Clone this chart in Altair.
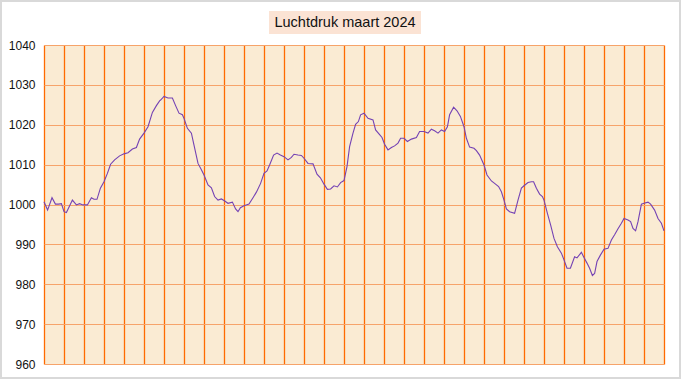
import altair as alt
import pandas as pd

titel = "Luchtdruk  maart 2024"

# tijd in dagen sinds 1 maart 00:00
dag = [
    0.00, 0.18, 0.40, 0.57, 0.73, 0.87, 1.00, 1.12, 1.42, 1.62, 1.78, 1.95,
    2.17, 2.37, 2.50, 2.65, 2.82, 3.00, 3.17, 3.33, 3.53, 3.78, 4.00, 4.20,
    4.42, 4.62, 4.78, 5.00, 5.20, 5.42, 5.62, 5.78, 5.83, 6.00, 6.20, 6.42,
    6.58, 6.75, 6.92, 7.00, 7.17, 7.37, 7.50, 7.70, 7.87, 8.00, 8.20, 8.37,
    8.53, 8.70, 8.87, 9.00, 9.20, 9.42, 9.58, 9.70, 9.82, 10.00, 10.25, 10.45,
    10.62, 10.83, 11.00, 11.15, 11.28, 11.48, 11.65, 11.82, 12.00, 12.20, 12.37, 12.50,
    12.70, 12.87, 13.00, 13.20, 13.45, 13.65, 13.82, 14.00, 14.17, 14.33, 14.50, 14.67,
    14.83, 15.00, 15.15, 15.28, 15.45, 15.58, 15.72, 15.83, 16.00, 16.20, 16.45, 16.58,
    16.78, 16.90, 17.03, 17.20, 17.37, 17.53, 17.70, 17.83, 18.00, 18.17, 18.37, 18.62,
    18.78, 19.00, 19.20, 19.37, 19.53, 19.70, 19.87, 20.03, 20.17, 20.28, 20.48, 20.65,
    20.82, 21.00, 21.12, 21.28, 21.50, 21.62, 21.78, 22.00, 22.15, 22.37, 22.53, 22.73,
    22.87, 23.00, 23.12, 23.28, 23.53, 23.70, 23.87, 24.00, 24.20, 24.37, 24.48, 24.62,
    24.78, 24.92, 25.00, 25.17, 25.33, 25.50, 25.67, 25.87, 26.00, 26.15, 26.32, 26.53,
    26.65, 26.87, 27.00, 27.15, 27.28, 27.42, 27.53, 27.65, 27.82, 28.00, 28.20, 28.37,
    28.53, 28.70, 28.87, 29.00, 29.20, 29.33, 29.45, 29.58, 29.70, 29.87, 30.00, 30.20,
    30.33, 30.53, 30.70, 30.87, 31.00,
]

druk = [
    1000.7, 998.6, 1001.7, 1000.1, 1000.1, 1000.2, 998.2, 998.0, 1001.1, 999.9, 1000.2, 999.9,
    999.9, 1001.7, 1001.3, 1001.3, 1004.1, 1005.7, 1007.8, 1010.1, 1011.2, 1012.2, 1012.7, 1013.0,
    1013.9, 1014.3, 1016.4, 1017.9, 1019.5, 1023.1, 1024.8, 1026.0, 1026.2, 1027.1, 1026.7, 1026.7,
    1024.8, 1022.9, 1022.5, 1021.6, 1019.1, 1017.9, 1014.9, 1010.3, 1008.7, 1007.4, 1004.9, 1004.2,
    1002.0, 1001.1, 1001.4, 1001.0, 1000.3, 1000.6, 998.9, 998.2, 999.2, 999.7, 1000.1, 1001.7,
    1003.1, 1005.3, 1007.8, 1008.4, 1009.9, 1012.4, 1012.9, 1012.4, 1012.0, 1011.2, 1011.8, 1012.6,
    1012.4, 1012.3, 1011.6, 1010.3, 1010.2, 1007.6, 1006.7, 1005.1, 1003.8, 1003.9, 1004.7, 1004.4,
    1005.5, 1006.0, 1009.5, 1014.5, 1017.9, 1020.1, 1020.8, 1022.5, 1022.9, 1021.6, 1021.2, 1018.7,
    1017.5, 1016.8, 1015.1, 1013.7, 1014.3, 1014.7, 1015.4, 1016.6, 1016.6, 1015.8, 1016.4, 1016.8,
    1018.3, 1018.3, 1017.9, 1018.9, 1018.5, 1017.9, 1018.7, 1018.3, 1019.5, 1022.5, 1024.4, 1023.5,
    1022.1, 1019.5, 1016.6, 1014.4, 1014.1, 1013.5, 1012.4, 1009.9, 1007.4, 1005.9, 1005.3, 1004.5,
    1003.2, 1001.1, 998.9, 998.2, 997.8, 1001.1, 1004.1, 1004.7, 1005.5, 1005.7, 1005.7, 1004.1,
    1002.6, 1002.0, 1001.1, 997.8, 994.9, 991.5, 989.4, 987.8, 986.1, 984.0, 984.0, 986.9,
    986.6, 988.0, 986.7, 985.3, 984.0, 982.2, 982.7, 985.7, 987.3, 988.8, 989.0, 991.1,
    992.4, 993.9, 995.3, 996.5, 996.1, 995.7, 994.0, 993.4, 995.7, 1000.1, 1000.3, 1000.6,
    1000.1, 998.6, 996.5, 995.3, 993.4,
]

dag_grenzen = list(range(0, 32))
y_ticks = [960, 970, 980, 990, 1000, 1010, 1020, 1030, 1040]

df = pd.DataFrame({"dag": dag, "druk": druk})

W, H = 620, 319
PAD_L, PAD_T = 44, 45

line = alt.Chart(df).mark_line(color="#7442B4", strokeWidth=1.1).encode(
    x=alt.X(
        "dag:Q",
        scale=alt.Scale(domain=[0, 31], nice=False, zero=False),
        axis=alt.Axis(
            values=dag_grenzen, labels=False, ticks=False, domain=False,
            grid=True, gridColor="#FF6A00", gridWidth=1.3, gridOpacity=1, title=None,
        ),
    ),
    y=alt.Y(
        "druk:Q",
        scale=alt.Scale(domain=[960, 1040], nice=False, zero=False),
        axis=alt.Axis(
            values=y_ticks, format="d", grid=True, gridColor="#F6A36A", gridWidth=1,
            gridOpacity=1, domain=False, ticks=False, labelPadding=9, title=None,
            labelFont="Liberation Sans", labelFontSize=12, labelColor="#111111",
        ),
    ),
)

title_df = pd.DataFrame({"t": [titel]})
title_box = alt.Chart(title_df).mark_rect(color="#FBE3D4").encode(
    x=alt.value(225), x2=alt.value(377), y=alt.value(-34), y2=alt.value(-11)
)
title_text = alt.Chart(title_df).mark_text(
    font="Liberation Sans", fontSize=14.5, color="#111111", align="center", baseline="middle"
).encode(text="t:N", x=alt.value(301), y=alt.value(-22))

border = alt.Chart(title_df).mark_rect(
    fillOpacity=0, stroke="#D9D9D9", strokeWidth=2
).encode(
    x=alt.value(-PAD_L + 1), x2=alt.value(681 - PAD_L - 1),
    y=alt.value(-PAD_T + 1), y2=alt.value(379 - PAD_T - 1)
)

chart = alt.layer(line, title_box, title_text, border).properties(
    width=W, height=H,
    autosize=alt.AutoSizeParams(type="none"),
    padding={"left": PAD_L, "top": PAD_T, "right": 681 - PAD_L - W, "bottom": 379 - PAD_T - H},
    background="white",
).configure_view(fill="#FAEBD3", stroke=None)

chart.save("out.html", embed_options={"renderer": "svg", "actions": False})
